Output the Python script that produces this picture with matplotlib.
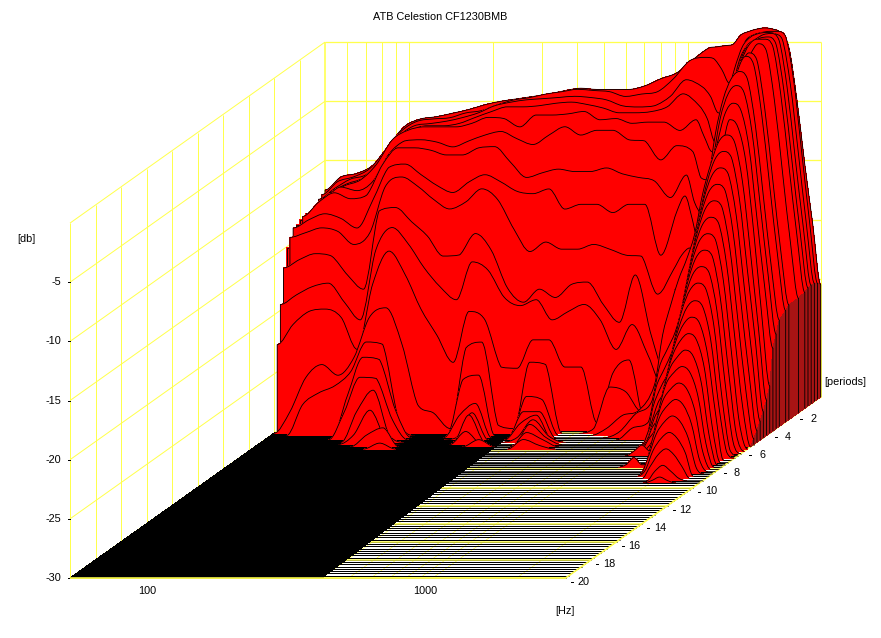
#!/usr/bin/env python3
"""
ATB waterfall plot of the Celestion CF1230BMB, drawn in an oblique 3D view.
Each slice is one decay time, dB values read from the picture.
"""

import numpy as np
import matplotlib
matplotlib.use('Agg')
import matplotlib.pyplot as plt
from matplotlib.path import Path
from matplotlib.patches import PathPatch

plt.rcParams['font.family'] = ['Liberation Sans', 'DejaVu Sans']

TITLE = 'ATB Celestion CF1230BMB'

# frequency columns of every slice (Hz)
freq_hz = [50, 57, 65, 74.3, 84.8, 96.8, 110, 126, 144, 164, 187, 214, 244, 278, 318,
           363, 414, 472, 539, 615, 702, 801, 914, 1043, 1191,
           1273, 1360, 1453, 1552, 1658, 1771, 1892, 2021, 2159, 2306, 2464, 2632, 2812, 3004]

F = -30.0  # floor of the plot

db_000 = [-12.5, -11.4, -11.1, -10.4, -8.7, -7.1, -6.5, -6.3, -6.0, -5.7, -5.3, -5.0, -4.8,
          -4.6, -4.4, -4.1, -3.9, -4.0, -4.0, -4.0, -3.7, -3.1, -2.6, -1.5, -0.5,
          -0.4, -0.3, -0.2, 0.6, 0.9, 1.1, 1.2, 1.1, 0.8, -0.4, -4.8, -10.3, -15.4, -20.5]
db_025 = [-12.7, -11.6, -11.2, -10.5, -8.9, -7.3, -6.5, -6.3, -6.2, -5.8, -5.6, -5.1, -4.7,
          -4.5, -4.2, -4.0, -3.8, -3.9, -4.0, -4.4, -4.2, -4.0, -2.9, -1.4, -1.1,
          -1.2, -2.1, -3.3, -1.4, 0.3, 0.8, 1.0, 1.1, 1.1, 0.7, -3.0, -9.0, -15.0, -20.2]
db_050 = [-12.9, -12.0, -11.2, -10.8, -9.3, -7.6, -6.7, -6.5, -6.3, -6.0, -5.6, -5.0, -4.7,
          -4.5, -4.4, -4.3, -4.2, -4.3, -4.5, -5.0, -5.1, -5.0, -4.2, -2.8, -3.4,
          -4.2, -5.6, -4.4, -1.9, 0.0, 0.8, 1.1, 1.2, 1.1, 0.6, -3.2, -9.0, -15.0, -20.0]
db_075 = [-13.2, -12.1, -11.4, -10.9, -9.6, -7.9, -6.9, -6.5, -6.5, -6.3, -5.8, -5.3, -4.9,
          -4.9, -4.8, -4.6, -4.5, -4.7, -5.0, -5.4, -5.4, -5.3, -4.9, -3.8, -4.8,
          -5.9, -7.9, -6.4, -3.8, -1.0, 0.3, 0.8, 1.2, 1.3, 0.7, -3.3, -9.2, -15.0, -20.0]
db_100 = [-13.4, -12.3, -11.4, -10.9, -9.6, -7.5, -6.7, -6.4, -6.4, -6.4, -6.1, -5.6, -5.7,
          -6.4, -5.4, -5.4, -5.3, -5.1, -5.8, -5.7, -6.1, -6.0, -6.0, -6.7, -5.8,
          -7.2, -8.5, -7.5, -5.1, -2.2, 0.0, 0.7, 1.1, 1.2, 0.6, -3.4, -9.3, -15.2, -20.0]
db_125 = [-13.4, -12.3, -11.3, -11.6, -10.8, -8.5, -7.4, -7.3, -7.5, -7.9, -7.4, -6.9, -6.6,
          -7.2, -7.7, -6.9, -6.2, -6.9, -6.5, -6.5, -7.3, -7.4, -9.0, -7.8, -8.3,
          -10.5, -10.7, -7.4, -4.9, -2.6, -0.7, 0.7, 1.2, 1.2, 0.6, -3.5, -9.4, -15.3, -20.2]
db_175 = [-13.4, -12.2, -11.4, -11.9, -11.6, -9.0, -7.6, -7.6, -7.8, -8.2, -8.2, -7.6, -7.5,
          -8.8, -10.1, -9.7, -9.4, -9.6, -9.6, -9.3, -9.8, -10.1, -10.4, -11.8, -9.9,
          -12.2, -13.2, -11.5, -8.6, -6.0, -3.5, -1.4, 0.3, 1.2, 0.6, -3.6, -9.6, -15.6, -20.3]
db_250 = [-13.8, -13.1, -12.6, -13.0, -13.8, -11.4, -8.7, -8.4, -9.3, -10.2, -10.8, -9.9, -9.3,
          -9.9, -10.7, -10.9, -10.5, -12.2, -11.8, -11.8, -12.5, -11.8, -11.8, -16.1, -12.4,
          -11.1, -13.3, -16.1, -14.8, -10.5, -6.3, -2.5, -0.2, 1.0, 0.4, -3.8, -9.8, -15.8, -20.3]
db_275 = [-14.4, -14.0, -13.6, -13.9, -15.0, -14.0, -10.1, -9.3, -10.1, -11.2, -12.0, -11.4, -10.3,
          -11.2, -13.7, -15.6, -14.8, -15.4, -15.4, -15.0, -15.4, -15.9, -16.0, -19.2, -17.1,
          -15.9, -15.3, -19.2, -17.6, -12.5, -7.4, -3.1, -0.3, 0.9, 0.2, -4.0, -10.0, -16.0, -20.6]
db_325 = [-16.6, -15.9, -15.4, -15.6, -17.2, -18.4, -11.8, -11.5, -12.7, -13.9, -15.6, -15.5, -13.7,
          -15.1, -18.3, -19.5, -18.4, -19.1, -18.0, -17.8, -19.7, -21.2, -17.2, -22.3, -25.9,
          -18.4, -19.3, -21.0, -15.1, -10.0, -5.3, -2.3, -0.6, 0.0, -0.6, -4.5, -10.5, -16.5, -21.0]
db_350 = [-19.5, -18.7, -18.0, -17.7, -19.3, -20.8, -14.9, -13.0, -14.4, -16.4, -18.0, -19.1, -15.9,
          -16.6, -18.9, -19.6, -19.1, -20.8, -20.1, -19.5, -20.8, -23.3, -21.2, -23.8, -26.7,
          -24.0, -21.0, -17.5, -14.0, -11.0, -7.7, -3.8, -1.7, -1.0, -1.6, -5.0, -11.0, -17.0, -22.0]
db_375 = [-22.7, -21.0, -19.9, -19.7, -20.4, -23.1, -17.6, -14.8, -16.8, -19.7, -21.9, -24.2, -19.9,
          -20.6, -24.6, -24.7, -22.3, -22.3, -24.6, -24.6, -29.3, -25.1, -24.0, -29.1, -28.0,
          -25.0, -21.5, -18.0, -15.0, -12.0, -9.0, -5.8, -3.2, -2.3, -2.9, -6.0, -12.0, -18.0, -23.0]
db_400 = [F, -28.2, -25.3, -24.2, -25.1, -23.6, -20.2, -19.4, -22.5, -27.6, -28.3, -29.6, -22.8,
          -22.3, -29.3, -29.6, -24.0, -24.2, F, F, -29.6, -26.1, -26.5, -28.2, -27.5,
          -24.0, -21.0, -18.5, -16.0, -13.0, -10.0, -8.0, -6.0, -3.5, -4.1, -7.0, -13.0, -20.0, -26.0]
db_425 = [F, F, -27.4, -26.4, -25.8, -24.6, -22.1, -22.3, -28.7, F, F, F, -25.3,
          -24.9, F, F, -26.7, -27.0, F, F, F, -29.4, -28.3, -27.9, -25.7,
          -21.5, -19.0, -16.8, -15.1, -13.0, -9.6, -7.1, -5.2, -4.6, -5.2, -8.6, -14.6, -21.0, -27.0]
db_450 = [F, F, F, F, F, -26.4, -23.2, -23.4, -27.7, F, F, F, -28.1,
          -27.1, F, F, -27.8, -27.8, F, F, F, F, -29.5, -28.0, -27.0,
          -24.0, -22.5, -21.0, -18.5, -15.0, -11.3, -8.3, -6.4, -5.8, -6.3, -9.8, -15.8, -21.8, -27.8]
db_475 = [F, F, F, F, F, -27.6, -24.7, -24.8, -28.3, F, F, F, -29.8,
          -27.7, F, F, -28.6, -27.9, F, F, F, F, F, -29.0, -28.5,
          -25.5, -24.0, -22.5, -20.5, -16.5, -12.5, -9.5, -7.6, -7.0, -7.5, -11.0, -17.0, -23.0, -28.4]
db_500 = [F, F, F, F, F, F, -27.4, -25.6, -29.4, F, F, F, F,
          -27.7, F, F, -29.6, -28.1, -29.5, F, F, F, F, F, F,
          -27.0, -25.3, -24.0, -22.0, -18.0, -13.7, -10.7, -8.8, -8.2, -8.7, -12.2, -18.2, -24.2, -29.0]
db_525 = [F, F, F, F, F, F, -29.2, -27.1, -29.6, F, F, F, F,
          -28.9, F, F, F, -28.3, -29.4, F, F, F, F, F, F,
          -28.5, -26.5, -25.3, -23.0, -19.2, -14.9, -11.9, -10.0, -9.4, -9.9, -13.4, -19.4, -25.4, -29.5]
db_550 = [F, F, F, F, F, F, F, -29.0, -28.4, F, F, F, F,
          F, -29.4, F, F, -28.8, -29.4, F, F, F, F, F, F,
          -29.5, -27.5, -26.3, -24.3, -20.5, -16.1, -13.1, -11.2, -10.6, -11.1, -14.6, -20.6, -26.6, F]
db_575 = [F, F, F, F, F, F, F, F, -29.5, F, F, F, F,
          F, F, F, F, -29.2, -29.7, F, F, F, F, F, F,
          F, -28.3, -27.2, -25.2, -21.7, -17.3, -14.3, -12.4, -11.8, -12.3, -15.8, -21.8, -27.8, F]

# slices further forward only ring around the top of the band
db_600 = [F] * 25 + [F, -29.0, -28.0, -26.0, -22.5, -18.5, -15.5, -13.6, -13.0, -13.5, -17.0, -23.0, -28.5, F]
db_625 = [F] * 25 + [F, -29.7, -28.8, -26.8, -23.5, -19.5, -16.7, -14.8, -14.2, -14.7, -18.0, -24.0, -29.0, F]
db_650 = [F] * 25 + [-29.6, -29.1, -29.6, -28.5, -24.5, -20.5, -17.7, -16.0, -15.4, -15.9, -19.0, -25.0, -29.5, F]
db_675 = [F] * 25 + [F, F, F, -29.5, -25.5, -21.5, -19.0, -17.3, -16.7, -17.2, -20.0, -25.5, -29.5, F]
db_700 = [F] * 25 + [F, F, F, F, -26.5, -22.5, -20.0, -18.5, -17.9, -18.4, -21.0, -26.0, F, F]
db_725 = [F] * 25 + [F, F, F, F, -27.5, -23.5, -21.0, -19.7, -19.1, -19.6, -22.0, -27.0, F, F]
db_750 = [F] * 25 + [F, F, F, F, -28.5, -24.5, -22.0, -20.9, -20.3, -20.8, -23.0, -27.5, F, F]
db_775 = [F] * 25 + [F, -29.8, -29.2, -29.8, -29.5, -25.5, -23.0, -22.0, -21.5, -22.0, -24.0, -28.0, F, F]
db_800 = [F] * 25 + [F, F, F, F, F, -26.5, -24.2, -23.2, -22.7, -23.2, -25.0, -28.5, F, F]
db_825 = [F] * 25 + [F, F, F, F, F, -27.5, -25.4, -24.4, -23.9, -24.4, -26.0, -29.0, F, F]
db_850 = [F] * 25 + [F, F, F, F, F, -28.5, -26.6, -25.6, -25.1, -25.6, -27.0, -29.5, F, F]
db_875 = [F] * 25 + [F, F, F, F, F, -29.5, -27.8, -26.8, -26.3, -26.8, -28.0, F, F, F]
db_900 = [F] * 25 + [F, F, F, F, F, F, -29.0, -28.0, -27.5, -28.0, -29.0, F, F, F]
db_925 = [F] * 25 + [F, F, F, F, F, F, F, -29.2, -28.7, -29.2, -29.8, F, F, F]
db_950 = [F] * 25 + [F, F, F, F, F, F, F, -29.8, -29.5, -29.8, F, F, F, F]

slice_periods = [0, 0.25, 0.5, 0.75, 1.0, 1.25, 1.75, 2.5, 2.75, 3.25, 3.5, 3.75, 4.0, 4.25,
                 4.5, 4.75, 5.0, 5.25, 5.5, 5.75, 6.0, 6.25, 6.5, 6.75, 7.0, 7.25, 7.5, 7.75,
                 8.0, 8.25, 8.5, 8.75, 9.0, 9.25, 9.5]
slice_db = [db_000, db_025, db_050, db_075, db_100, db_125, db_175, db_250, db_275, db_325,
            db_350, db_375, db_400, db_425, db_450, db_475, db_500, db_525, db_550, db_575,
            db_600, db_625, db_650, db_675, db_700, db_725, db_750, db_775, db_800, db_825,
            db_850, db_875, db_900, db_925, db_950]

# time steps that only show at the low end of the band
edge_periods = [1.5, 2.0, 2.25, 3.0]
edge_db = [-13.3, -13.5, -13.7, -15.1]

# axes of the view
db_ticks = [-5, -10, -15, -20, -25, -30]
db_grid = [0, -5, -10, -15, -20, -25, -30]
period_ticks = [2, 4, 6, 8, 10, 12, 14, 16, 18, 20]
freq_labels = [100, 1000]
freq_grid = [50, 60, 70, 80, 90, 100, 200, 300, 400, 500, 600, 700, 800, 900, 1000, 2000, 3000]

YELLOW = '#ffff4d'
RED = '#ff0000'
DARK_RED = '#a81414'
PX = 0.72  # one pixel in points at dpi 100


def project(freq, period, db):
    """Oblique view: frequency to the right, periods to the front, dB upward"""
    x = 325 + 278.7 * np.log10(np.asarray(freq, dtype=float) / 50) - 12.75 * period
    y = 397 + 9.05 * period - 11.83 * (np.asarray(db, dtype=float) + 30)
    return x, y


def curve_path(x, y, start, end):
    """Rounded path through the read values, no overshoot between them"""
    slopes = np.zeros(len(x))
    for k in range(1, len(x) - 1):
        if (y[k] - y[k - 1]) * (y[k + 1] - y[k]) > 0:
            slopes[k] = (y[k + 1] - y[k - 1]) / (x[k + 1] - x[k - 1])
    verts = [start, (x[0], y[0])]
    codes = [Path.MOVETO, Path.LINETO]
    for k in range(len(x) - 1):
        dx = (x[k + 1] - x[k]) / 3
        lo, hi = sorted((y[k], y[k + 1]))
        verts.append((x[k] + dx, np.clip(y[k] + slopes[k] * dx, lo, hi)))
        verts.append((x[k + 1] - dx, np.clip(y[k + 1] - slopes[k + 1] * dx, lo, hi)))
        verts.append((x[k + 1], y[k + 1]))
        codes += [Path.CURVE4] * 3
    verts.append(end)
    codes.append(Path.LINETO)
    return Path(verts, codes)


def yellow_line(ax, xs, ys, z=1, lw=1.0):
    ax.plot(xs, ys, color=YELLOW, lw=lw * PX, zorder=z, solid_capstyle='butt')


def draw_grid(ax):
    # back wall
    for db in db_grid:
        x, y = project([50, 3000], 0, [db, db])
        yellow_line(ax, x, y, lw=1.3)
    for f in freq_grid:
        x, y = project([f, f], 0, [-30, 0])
        yellow_line(ax, x, y, lw=1.6 if f == 50 else 1.0)
    # left wall
    for db in db_grid:
        x, y = project([50, 50], np.array([0, 20]), [db, db])
        yellow_line(ax, x, y)
    for p in period_ticks:
        x, y = project([50, 50], p, [-30, 0])
        yellow_line(ax, x, y)
    # floor diagonals, seen only through the gaps of the slices
    for f in freq_grid:
        x, y = project([f, f], np.array([0, 20]), [-30, -30])
        yellow_line(ax, x, y, z=1, lw=0.7)


def draw_floor(ax):
    # one baseline per time step
    for p in np.arange(3.75, 20.01, 0.25):
        x, y = project([50, 3000], p, [-30, -30])
        ax.plot(x, y, color='black', lw=PX, zorder=2, solid_capstyle='butt')
    for p in period_ticks:
        x, y = project([50, 3000], p, [-30, -30])
        yellow_line(ax, x, y, z=2.5, lw=1.5)
    # dense low end of the floor
    bx0, by0 = project(50, 3.95, -30)
    bx1, by1 = project(50, 20, -30)
    cx0, cy0 = project(360, 3.95, -30)
    cx1, cy1 = project(400, 20, -30)
    ax.fill([bx0, cx0, cx1, bx1], [by0, cy0, cy1, by1], color='black', lw=0,
            antialiased=False, zorder=3)
    x, y = project([3000, 3000], np.array([0, 20]), [-30, -30])
    yellow_line(ax, x, y, z=3.5, lw=1.6)
    x, y = project([50, 3000], 20, [-30, -30])
    yellow_line(ax, x, y, z=3.5, lw=1.6)


def draw_edge_steps(ax):
    # stair along the left side of the red body
    for p, db in zip(edge_periods, edge_db):
        x, y = project(freq_hz[:3], p, [db, db, F])
        fx, fy = project(freq_hz[0], p, F)
        ax.fill(np.r_[fx, x], np.r_[fy, y], color=RED, lw=0, antialiased=False, zorder=9)
        ax.plot([fx, x[0], x[1]], [fy, y[0], y[1]], color='black', lw=0.85 * PX, zorder=9.5)


def draw_slices(ax):
    n = len(slice_periods)
    for i in range(n):
        p = slice_periods[i]
        z = 10 + i
        x, y = project(freq_hz, p, slice_db[i])
        fx, fy = project([freq_hz[0], freq_hz[-1]], p, [-30, -30])
        top = curve_path(x, y, (fx[0], fy[0]), (fx[1], fy[1]))
        ax.add_patch(PathPatch(top, facecolor=RED, edgecolor='none', lw=0, antialiased=False,
                               zorder=z))
        ax.add_patch(PathPatch(top, fill=False, edgecolor='black', lw=0.85 * PX, zorder=z + 0.5))
        # dark side wall at the top end of the band
        if i + 1 < n:
            nx, ny = project(freq_hz[-1], slice_periods[i + 1], slice_db[i + 1][-1])
            nfx, nfy = project(freq_hz[-1], slice_periods[i + 1], -30)
            ax.fill([x[-1], nx, nfx, fx[1]], [y[-1], ny, nfy, fy[1]], color=DARK_RED, lw=0,
                    antialiased=False, zorder=z + 0.3)


def draw_labels(ax):
    ax.text(440, 17, TITLE, fontsize=7.8, ha='center', va='center')
    ax.text(26, 239, '[db]', fontsize=7.8, ha='center', va='center')
    for db in db_ticks:
        x, y = project(50, 20, db)
        ax.plot([x - 2.5, x - 0.5], [y, y], color='black', lw=PX, zorder=2)
        ax.text(x - 9, y, str(db), fontsize=7.8, ha='right', va='center')
    for f in freq_labels:
        x, y = project(f, 20, -30)
        ax.text(x - 7, y + 13, str(f), fontsize=7.8, ha='center', va='center')
    ax.text(565, 611, '[Hz]', fontsize=7.8, ha='center', va='center')
    ax.text(845, 382, '[periods]', fontsize=7.8, ha='center', va='center')
    for p in period_ticks:
        x, y = project(3000, p, -30)
        ax.plot([x + 5, x + 7], [y + 4, y + 4], color='black', lw=PX, zorder=2)
        ax.text(x + 18, y + 4, str(p), fontsize=7.8, ha='center', va='center')


def main():
    fig = plt.figure(figsize=(8.81, 6.38), dpi=100)
    ax = fig.add_axes([0, 0, 1, 1])
    ax.set_xlim(0, 881)
    ax.set_ylim(638, 0)
    ax.axis('off')

    draw_grid(ax)
    draw_floor(ax)
    draw_edge_steps(ax)
    draw_slices(ax)
    draw_labels(ax)

    fig.savefig('out.png', dpi=100, facecolor='white')


if __name__ == "__main__":
    main()
